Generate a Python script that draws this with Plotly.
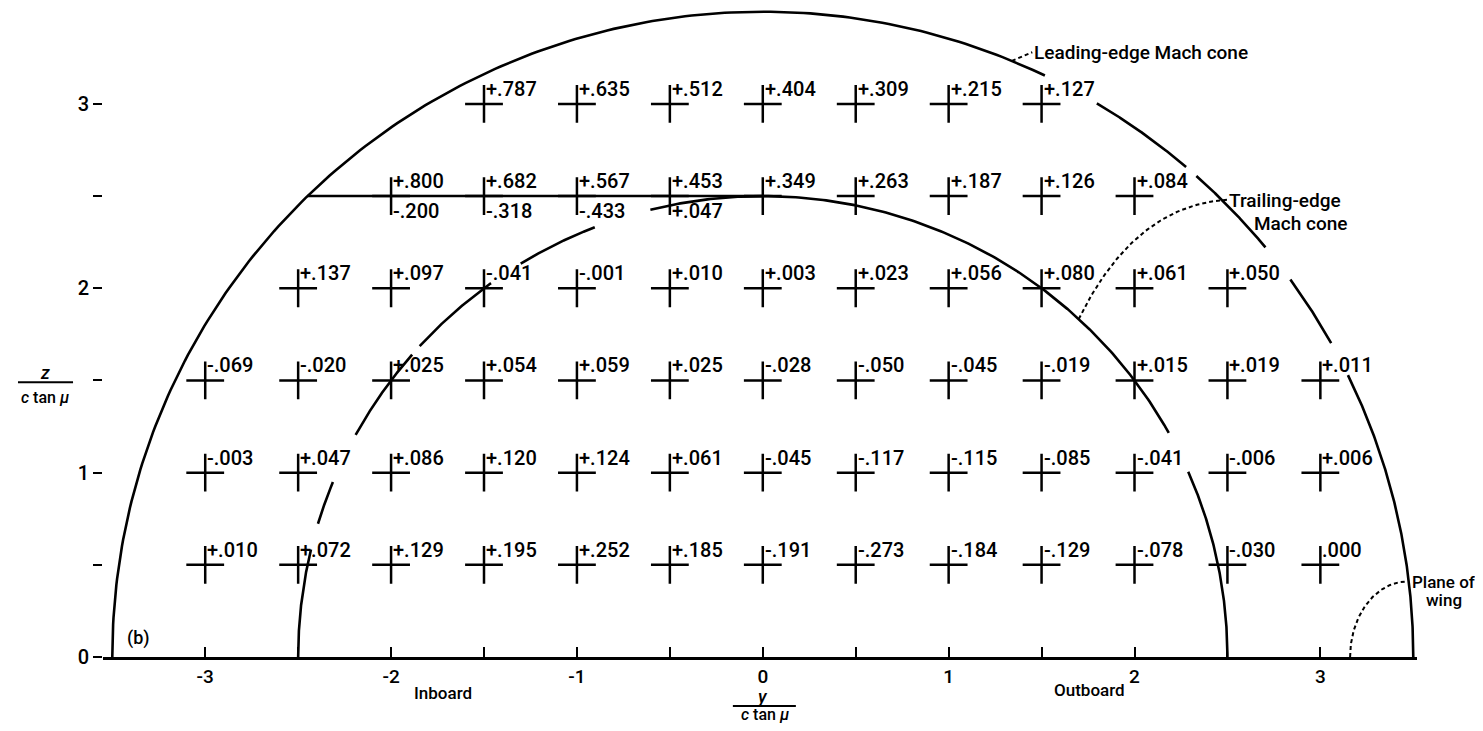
import numpy as np
import plotly.graph_objects as go

# ---------------- data ----------------
grid_step = 0.5
row_z = [3.0, 2.5, 2.0, 1.5, 1.0, 0.5]
row_x_start = [-1.5, -2.0, -2.5, -3.0, -3.0, -3.0]

row_3_0 = [0.787, 0.635, 0.512, 0.404, 0.309, 0.215, 0.127]
row_2_5 = [0.800, 0.682, 0.567, 0.453, 0.349, 0.263, 0.187, 0.126, 0.084]
row_2_5_lower = [-0.200, -0.318, -0.433, 0.047]
row_2_0 = [0.137, 0.097, -0.041, -0.001, 0.010, 0.003, 0.023, 0.056, 0.080, 0.061, 0.050]
row_1_5 = [-0.069, -0.020, 0.025, 0.054, 0.059, 0.025, -0.028, -0.050, -0.045,
           -0.019, 0.015, 0.019, 0.011]
row_1_0 = [-0.003, 0.047, 0.086, 0.120, 0.124, 0.061, -0.045, -0.117, -0.115,
           -0.085, -0.041, -0.006, 0.006]
row_0_5 = [0.010, 0.072, 0.129, 0.195, 0.252, 0.185, -0.191, -0.273, -0.184,
           -0.129, -0.078, -0.030, 0.000]
row_values = [row_3_0, row_2_5, row_2_0, row_1_5, row_1_0, row_0_5]

leading_edge_radius = 3.5
trailing_edge_radius = 2.5

x_tick_vals = [-3, -2.5, -2, -1.5, -1, -0.5, 0, 0.5, 1, 1.5, 2, 2.5, 3]
x_tick_text = ["-3", "", "-2", "", "-1", "", "0", "", "1", "", "2", "", "3"]
y_tick_vals = [0, 0.5, 1, 1.5, 2, 2.5, 3]
y_tick_text = ["0", "", "1", "", "2", "", "3"]

# ---------------- styling ----------------
FONT = "Roboto"
WEIGHT = 500
INK = "black"
LW = 2.6

# drafting breaks in the cone curves (degrees, drawn segments)
outer_segments = [(180, 64.3), (59.1, 49.4), (48.2, 39.4), (35.8, 29.1), (25.9, 0)]
inner_segments = [(180, 166.5), (163.2, 157.7), (151.2, 139.0), (137.6, 125.8),
                  (121.4, 111.2), (104.0, 29.1), (23.7, 0)]


def font(size):
    return dict(family=FONT, size=size, color=INK, weight=WEIGHT)


def fmt(v):
    if v == 0:
        return ".000"
    s = f"{v:+.3f}"
    return s[0] + s[2:]


def arc(r, segs, n=200):
    xs, ys = [], []
    for a0, a1 in segs:
        t = np.radians(np.linspace(a0, a1, n))
        xs += list(r * np.cos(t)) + [None]
        ys += list(r * np.sin(t)) + [None]
    return xs, ys


fig = go.Figure()

# Mach cones
ox, oy = arc(leading_edge_radius, outer_segments)
ix, iy = arc(trailing_edge_radius, inner_segments)
fig.add_trace(go.Scatter(x=ox, y=oy, mode="lines", line=dict(color=INK, width=LW),
                         hoverinfo="skip", showlegend=False))
fig.add_trace(go.Scatter(x=ix, y=iy, mode="lines", line=dict(color=INK, width=LW),
                         hoverinfo="skip", showlegend=False))
# horizontal chord at z = 2.5
hz = 2.5
hx0 = -np.sqrt(leading_edge_radius ** 2 - hz ** 2)
fig.add_trace(go.Scatter(x=[hx0, 0], y=[hz, hz], mode="lines",
                         line=dict(color=INK, width=LW), hoverinfo="skip", showlegend=False))

# dashed leaders
# trailing-edge Mach cone leader (quadratic curve)
p0 = np.array([1.70, np.sqrt(trailing_edge_radius ** 2 - 1.70 ** 2)])
p1 = np.array([2.0, 2.45])
p2 = np.array([2.50, 2.48])
tt = np.linspace(0, 1, 60)[:, None]
bez = (1 - tt) ** 2 * p0 + 2 * (1 - tt) * tt * p1 + tt ** 2 * p2
fig.add_trace(go.Scatter(x=bez[:, 0], y=bez[:, 1], mode="lines",
                         line=dict(color=INK, width=2, dash="4px,3px"),
                         hoverinfo="skip", showlegend=False))
# plane of wing leader (quarter ellipse)
th = np.radians(np.linspace(180, 90, 60))
fig.add_trace(go.Scatter(x=3.47 + 0.31 * np.cos(th), y=0.41 * np.sin(th), mode="lines",
                         line=dict(color=INK, width=2, dash="4px,3px"),
                         hoverinfo="skip", showlegend=False))
# leading-edge leader
lx0 = 1.34
fig.add_trace(go.Scatter(x=[lx0, 1.45], y=[np.sqrt(leading_edge_radius ** 2 - lx0 ** 2), 3.28],
                         mode="lines", line=dict(color=INK, width=2, dash="4px,3px"),
                         hoverinfo="skip", showlegend=False))

# crosses + value labels
cx, cz = [], []
annotations = []
for z, x0, vals in zip(row_z, row_x_start, row_values):
    for i, v in enumerate(vals):
        x = x0 + i * grid_step
        cx.append(x)
        cz.append(z)
        annotations.append(dict(x=x, y=z, xref="x", yref="y", text=fmt(v), showarrow=False,
                                xanchor="left", yanchor="middle", xshift=0, yshift=15,
                                font=font(20)))
for i, v in enumerate(row_2_5_lower):
    x = row_x_start[1] + i * grid_step
    annotations.append(dict(x=x, y=2.5, xref="x", yref="y", text=fmt(v), showarrow=False,
                            xanchor="left", yanchor="middle", xshift=0, yshift=-15,
                            font=font(20)))

fig.add_trace(go.Scatter(x=cx, y=cz, mode="markers",
                         marker=dict(symbol="cross-thin", size=27, color=INK,
                                     line=dict(color=INK, width=2.5)),
                         hoverinfo="skip", showlegend=False))

annotations += [
    dict(x=1.45, y=3.28, xref="x", yref="y", text="Leading-edge Mach cone", showarrow=False,
         xanchor="left", yanchor="middle", font=font(19)),
    dict(x=2.50, y=2.477, xref="x", yref="y", text="Trailing-edge", showarrow=False,
         xanchor="left", yanchor="middle", font=font(19)),
    dict(x=2.63, y=2.352, xref="x", yref="y", text="Mach cone", showarrow=False,
         xanchor="left", yanchor="middle", font=font(19)),
    dict(x=1.0205, y=0.407, xref="paper", yref="y", text="Plane of", showarrow=False,
         xanchor="center", yanchor="middle", font=font(17)),
    dict(x=1.0205, y=0.309, xref="paper", yref="y", text="wing", showarrow=False,
         xanchor="center", yanchor="middle", font=font(17)),
    dict(x=-3.36, y=0.103, xref="x", yref="y", text="(b)", showarrow=False,
         xanchor="center", yanchor="middle", font=font(18)),
    dict(x=-1.72, y=-0.0555, xref="x", yref="paper", text="Inboard", showarrow=False,
         xanchor="center", yanchor="middle", font=font(17)),
    dict(x=1.76, y=-0.051, xref="x", yref="paper", text="Outboard", showarrow=False,
         xanchor="center", yanchor="middle", font=font(17)),
    # x-axis title as a fraction
    dict(x=0.0, y=-0.0616, xref="x", yref="paper", text="<i>y</i>", showarrow=False,
         xanchor="center", yanchor="middle", font=font(18)),
    dict(x=0.01, y=-0.0885, xref="x", yref="paper", text="<i>c</i> tan <i>μ</i>", showarrow=False,
         xanchor="center", yanchor="middle", font=font(16)),
    # y-axis title as a fraction
    dict(x=-0.0441, y=1.545, xref="paper", yref="y", text="<i>z</i>", showarrow=False,
         xanchor="center", yanchor="middle", font=font(18)),
    dict(x=-0.0441, y=1.41, xref="paper", yref="y", text="<i>c</i> tan <i>μ</i>", showarrow=False,
         xanchor="center", yanchor="middle", font=font(16)),
]

shapes = [
    dict(type="line", xref="x", yref="paper", x0=-0.161, x1=0.178, y0=-0.0755, y1=-0.0755,
         line=dict(color=INK, width=2)),
    dict(type="line", xref="paper", yref="y", x0=-0.0647, x1=-0.0228, y0=1.49, y1=1.49,
         line=dict(color=INK, width=2)),
]

# the page body adds an 8 px offset, so the figure is sized to fill the rest
fig.update_layout(
    width=1475, height=723,
    margin=dict(l=95, r=66, t=0, b=74),
    paper_bgcolor="white", plot_bgcolor="white",
    showlegend=False,
    annotations=annotations,
    shapes=shapes,
    xaxis=dict(range=[-3.55, 3.52], tickmode="array", tickvals=x_tick_vals, ticktext=x_tick_text,
               ticks="inside", ticklen=10, tickwidth=2.2, tickcolor=INK,
               showline=True, linecolor=INK, linewidth=LW, showgrid=False, zeroline=False,
               tickfont=font(19), fixedrange=True),
    yaxis=dict(range=[0, 3.52], tickmode="array", tickvals=y_tick_vals, ticktext=y_tick_text,
               ticks="outside", ticklen=9, tickwidth=2.2, tickcolor=INK,
               showline=False, showgrid=False, zeroline=False,
               tickfont=font(20), fixedrange=True),
)

fig.write_html("out.html")
